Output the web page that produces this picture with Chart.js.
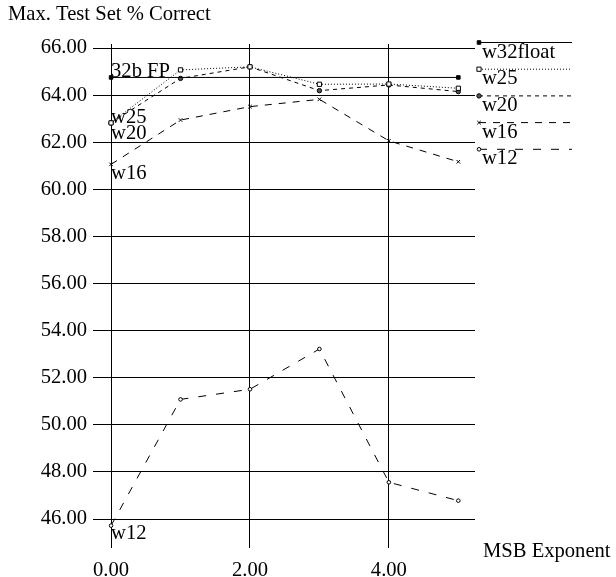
<!DOCTYPE html>
<html>
<head>
<meta charset="utf-8">
<title>Max. Test Set % Correct</title>
<script src="https://cdn.jsdelivr.net/npm/chart.js@4/dist/chart.umd.min.js"></script>
<style>
  html, body { margin: 0; padding: 0; background: #fff; }
  canvas { display: block; }
</style>
</head>
<body>
<canvas id="chart" width="616" height="577"></canvas>
<script>
// values
const exponents = [0, 1, 2, 3, 4, 5]
const fpExponents = [0, 5]
const w32float = [64.75, 64.75]
const w25 = [62.82, 65.07, 65.2, 64.46, 64.47, 64.29]
const w20 = [62.82, 64.71, 65.2, 64.19, 64.43, 64.15]
const w16 = [61.06, 62.94, 63.51, 63.82, 62.06, 61.17]
const w12 = [45.72, 51.08, 51.51, 53.22, 47.56, 46.78]

const xTicks = [0, 2, 4]
const yTicks = [46, 48, 50, 52, 54, 56, 58, 60, 62, 64, 66]
const legendNames = ["w32float", "w25", "w20", "w16", "w12"]
const inlineNames = ["32b FP", "w25", "w20", "w16", "w12"]
const yTitle = "Max. Test Set % Correct"
const xTitle = "MSB Exponent"

const FONT = '"Liberation Serif", "Times New Roman", serif'
const FONT_SIZE = 20.6

function toPoints(xs, ys) {
  return xs.map((x, i) => ({ x: x, y: ys[i] }))
}

function marker(ctx, ds, x, y) {
  ctx.fillStyle = ds.pointBackgroundColor
  ctx.strokeStyle = "#000"
  ctx.lineWidth = 1
  if (Chart.helpers && Chart.helpers.drawPoint) {
    Chart.helpers.drawPoint(ctx, { pointStyle: ds.pointStyle, radius: ds.pointRadius, borderWidth: 1, rotation: 0 }, x, y)
  }
}

// title, axis name, in-plot series labels and the legend on the right
const annotations = {
  id: "annotations",
  afterDraw(chart) {
    const ctx = chart.ctx
    const xs = chart.scales.x
    const ys = chart.scales.y
    ctx.save()
    ctx.font = FONT_SIZE + "px " + FONT
    ctx.textAlign = "left"
    ctx.textBaseline = "alphabetic"
    ctx.fillStyle = "#000"
    ctx.fillText(yTitle, 8, 20)
    ctx.fillText(xTitle, 483, 557)

    chart.data.datasets.forEach((ds, i) => {
      const p = ds.data[0]
      ctx.fillStyle = "#000"
      ctx.fillText(inlineNames[i], xs.getPixelForValue(p.x), ys.getPixelForValue(p.y) + ds.labelDy)

      const ly = 42.5 + i * 26.7
      ctx.strokeStyle = "#000"
      ctx.lineWidth = 1
      ctx.setLineDash(ds.borderDash || [])
      ctx.beginPath()
      ctx.moveTo(479, ly)
      ctx.lineTo(572, ly)
      ctx.stroke()
      ctx.setLineDash([])
      marker(ctx, ds, 479, ly)
      ctx.fillStyle = "#000"
      ctx.fillText(legendNames[i], 482, ly + 15)
    })
    ctx.restore()
  }
}

const ctx = document.getElementById("chart").getContext("2d")
new Chart(ctx, {
  type: "line",
  data: {
    datasets: [
      {
        label: "w32float",
        data: toPoints(fpExponents, w32float),
        borderColor: "#000",
        borderWidth: 1,
        pointStyle: "rect",
        pointRadius: 2.5,
        pointBackgroundColor: "#000",
        pointBorderColor: "#000",
        labelDy: 0
      },
      {
        label: "w25",
        data: toPoints(exponents, w25),
        borderColor: "#000",
        borderWidth: 1,
        borderDash: [1, 2],
        pointStyle: "rect",
        pointRadius: 3,
        pointBackgroundColor: "#fff",
        pointBorderColor: "#000",
        labelDy: 0
      },
      {
        label: "w20",
        data: toPoints(exponents, w20),
        borderColor: "#000",
        borderWidth: 1,
        borderDash: [4, 4],
        pointStyle: "circle",
        pointRadius: 2.2,
        pointBackgroundColor: "#555",
        pointBorderColor: "#000",
        labelDy: 16
      },
      {
        label: "w16",
        data: toPoints(exponents, w16),
        borderColor: "#000",
        borderWidth: 1,
        borderDash: [7, 7],
        pointStyle: "crossRot",
        pointRadius: 2.5,
        pointBackgroundColor: "#000",
        pointBorderColor: "#000",
        labelDy: 15
      },
      {
        label: "w12",
        data: toPoints(exponents, w12),
        borderColor: "#000",
        borderWidth: 1,
        borderDash: [8, 10],
        pointStyle: "circle",
        pointRadius: 1.8,
        pointBackgroundColor: "#fff",
        pointBorderColor: "#000",
        labelDy: 13
      }
    ]
  },
  options: {
    responsive: false,
    animation: false,
    layout: {
      autoPadding: false,
      padding: { left: 0, top: 44, right: 141, bottom: 0 }
    },
    plugins: {
      legend: { display: false },
      tooltip: { enabled: false }
    },
    elements: {
      line: { tension: 0, fill: false }
    },
    scales: {
      x: {
        type: "linear",
        min: -0.26,
        max: 5.24,
        afterBuildTicks: (scale) => { scale.ticks = xTicks.map(v => ({ value: v })) },
        afterFit: (scale) => { scale.height = 29 },
        border: { display: false },
        grid: { color: "#000", lineWidth: 1, drawTicks: false },
        ticks: {
          padding: 10,
          color: "#000",
          font: { family: FONT, size: FONT_SIZE },
          callback: (v) => Number(v).toFixed(2)
        }
      },
      y: {
        type: "linear",
        min: 44.77,
        max: 66.17,
        afterBuildTicks: (scale) => { scale.ticks = yTicks.map(v => ({ value: v })) },
        afterFit: (scale) => { scale.width = 93 },
        border: { display: false },
        grid: { color: "#000", lineWidth: 1, drawTicks: false },
        ticks: {
          padding: 6,
          color: "#000",
          font: { family: FONT, size: FONT_SIZE },
          callback: (v) => Number(v).toFixed(2)
        }
      }
    }
  },
  plugins: [annotations]
})
</script>
</body>
</html>
